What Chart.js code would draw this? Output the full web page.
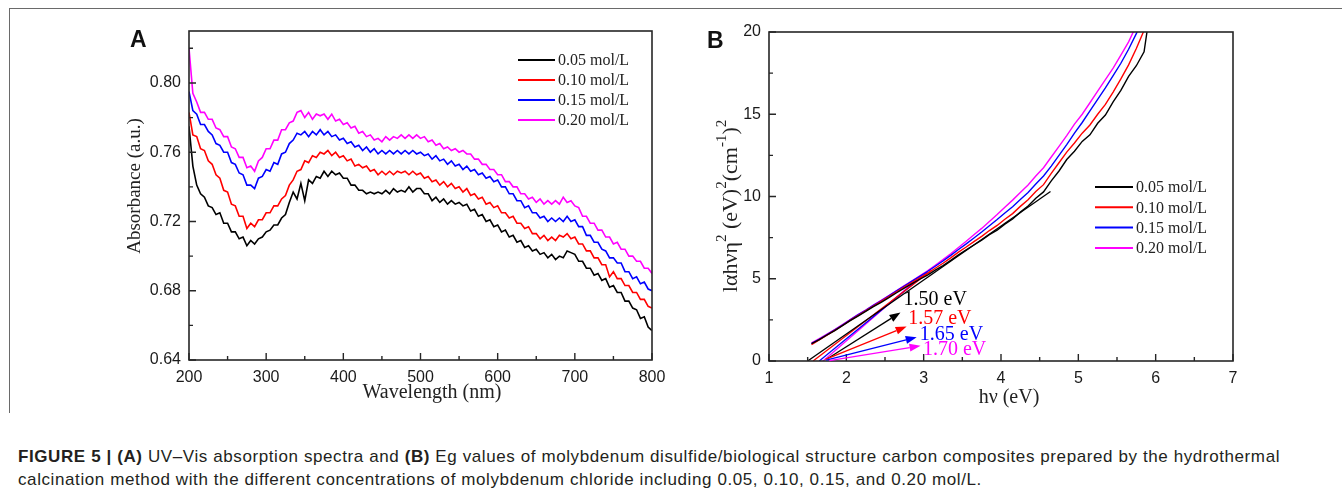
<!DOCTYPE html>
<html><head><meta charset="utf-8">
<script src="https://cdn.jsdelivr.net/npm/chart.js@4.4.0/dist/chart.umd.min.js"></script>
<style>
html,body{margin:0;padding:0;background:#fff;}
body{width:1342px;height:494px;position:relative;overflow:hidden;}
#frame{position:absolute;left:9px;top:8px;width:1340px;height:404px;border-top:1px solid #6a6a6a;border-left:1px solid #6a6a6a;}
#cA{position:absolute;left:0;top:0;}
#cB{position:absolute;left:671px;top:0;}
#cap{position:absolute;left:18px;top:445px;font-family:"Liberation Sans Narrow","Liberation Sans",Arial,sans-serif;font-size:17px;line-height:23px;color:#231f20;white-space:nowrap;}
#cap div{white-space:nowrap;}
</style></head>
<body>
<div id="frame"></div>
<canvas id="cA" width="671" height="420"></canvas>
<canvas id="cB" width="671" height="420"></canvas>
<div id="cap"><div id="l1"><b>FIGURE 5 | (A)</b> UV–Vis absorption spectra and <b>(B)</b> Eg values of molybdenum disulfide/biological structure carbon composites prepared by the hydrothermal</div><div id="l2">calcination method with the different concentrations of molybdenum chloride including 0.05, 0.10, 0.15, and 0.20 mol/L.</div></div>
<script>
// ---------- DATA ----------
const seriesLabels = ["0.05 mol/L", "0.10 mol/L", "0.15 mol/L", "0.20 mol/L"];
const seriesColors = ["#000000", "#ff0000", "#0000ff", "#ff00ff"];

// Panel A: UV-Vis absorbance vs wavelength (nm)
const wavelengths = [
200,205,210,215,220,225,230,235,240,245,
250,255,260,265,270,275,280,285,290,295,
300,305,310,315,320,325,330,335,340,345,
350,355,360,365,370,375,380,385,390,395,
400,405,410,415,420,425,430,435,440,445,
450,455,460,465,470,475,480,485,490,495,
500,505,510,515,520,525,530,535,540,545,
550,555,560,565,570,575,580,585,590,595,
600,605,610,615,620,625,630,635,640,645,
650,655,660,665,670,675,680,685,690,695,
700,705,710,715,720,725,730,735,740,745,
750,755,760,765,770,775,780,785,790,795,
800];
const abs005 = [
.775,.752,.741,.736,.734,.729,.728,.724,.725,.719,
.719,.714,.714,.710,.711,.706,.709,.707,.710,.711,
.714,.715,.718,.718,.722,.724,.731,.737,.733,.742,
.732,.744,.742,.746,.745,.749,.746,.749,.747,.748,
.745,.745,.741,.741,.738,.738,.736,.737,.736,.737,
.736,.738,.736,.739,.737,.738,.737,.740,.737,.739,
.739,.736,.736,.732,.734,.731,.733,.730,.732,.730,
.731,.729,.730,.726,.727,.723,.724,.720,.721,.717,
.718,.714,.715,.711,.712,.708,.709,.705,.706,.703,
.704,.701,.702,.699,.701,.698,.700,.699,.703,.702,
.701,.697,.697,.693,.693,.689,.690,.686,.687,.682,
.683,.679,.679,.674,.674,.670,.669,.664,.665,.659,
.657];
const abs010 = [
.783,.770,.769,.762,.761,.755,.753,.747,.745,.738,
.737,.730,.729,.723,.723,.716,.719,.717,.721,.721,
.725,.725,.729,.729,.733,.735,.741,.744,.749,.750,
.755,.754,.758,.757,.760,.759,.761,.758,.760,.757,
.758,.755,.756,.752,.753,.751,.752,.749,.750,.747,
.749,.747,.749,.747,.749,.748,.749,.747,.749,.747,
.748,.745,.746,.743,.744,.741,.743,.740,.742,.739,
.740,.737,.739,.735,.736,.733,.734,.730,.731,.728,
.729,.725,.725,.722,.723,.719,.719,.716,.717,.713,
.713,.710,.712,.709,.711,.709,.712,.711,.713,.710,
.711,.707,.707,.703,.703,.699,.699,.695,.695,.688,
.691,.687,.687,.683,.683,.679,.679,.675,.675,.671,
.670];
const abs015 = [
.795,.784,.782,.776,.776,.772,.770,.765,.764,.760,
.760,.754,.753,.748,.747,.741,.741,.739,.745,.746,
.750,.749,.754,.753,.759,.760,.765,.767,.771,.770,
.772,.769,.772,.770,.773,.770,.772,.769,.770,.767,
.768,.765,.766,.763,.764,.761,.763,.760,.762,.759,
.761,.759,.761,.759,.761,.759,.761,.759,.761,.759,
.760,.758,.759,.756,.758,.755,.756,.753,.755,.752,
.753,.750,.752,.749,.750,.747,.748,.745,.746,.743,
.744,.740,.740,.736,.736,.732,.732,.728,.729,.725,
.725,.722,.723,.720,.722,.720,.722,.720,.723,.720,
.721,.717,.717,.712,.712,.708,.708,.704,.703,.699,
.699,.696,.696,.691,.691,.687,.688,.684,.685,.681,
.680];
const abs020 = [
.820,.794,.789,.783,.783,.779,.779,.774,.773,.769,
.769,.763,.762,.757,.757,.751,.752,.749,.755,.757,
.762,.762,.767,.767,.773,.773,.777,.778,.783,.784,
.780,.783,.779,.782,.781,.782,.779,.782,.778,.779,
.776,.777,.774,.775,.771,.772,.769,.770,.767,.768,
.766,.769,.767,.769,.768,.770,.768,.770,.768,.770,
.768,.769,.766,.767,.764,.765,.762,.763,.761,.762,
.760,.761,.759,.759,.756,.756,.753,.753,.750,.750,
.747,.747,.743,.743,.740,.740,.736,.736,.733,.734,
.731,.733,.730,.732,.730,.732,.730,.734,.731,.732,
.729,.728,.723,.723,.719,.719,.715,.715,.711,.711,
.707,.708,.704,.704,.700,.700,.697,.697,.693,.693,
.690];
const aXTicks = [200, 300, 400, 500, 600, 700, 800];
const aXMinor = [250, 350, 450, 550, 650, 750];
const aYTicks = [0.64, 0.68, 0.72, 0.76, 0.80];
const aYMinor = [0.66, 0.70, 0.74, 0.78, 0.82];

// Panel B: Tauc plot
const photonEnergy = [
1.55,1.65,1.75,1.85,1.95,2.05,2.15,2.25,2.35,2.45,
2.55,2.65,2.75,2.85,2.95,3.05,3.15,3.25,3.35,3.45,
3.55,3.65,3.75,3.85,3.95,4.05,4.15,4.25,4.35,4.45,
4.55,4.65,4.75,4.85,4.95,5.05,5.15,5.25,5.35,5.45,
5.55,5.65,5.75,5.85,5.95];
const tauc005 = [
1.05,1.30,1.58,1.85,2.15,2.45,2.73,3.02,3.30,3.57,
3.85,4.15,4.43,4.70,4.97,5.22,5.52,5.80,6.12,6.45,
6.75,7.05,7.35,7.68,7.95,8.32,8.63,9.05,9.42,9.90,
10.28,10.95,11.55,12.25,12.75,13.35,13.75,14.45,14.95,15.75,
16.45,17.30,17.95,18.80,22.0];
const tauc010 = [
1.00,1.28,1.57,1.86,2.16,2.47,2.76,3.05,3.34,3.62,
3.91,4.21,4.50,4.78,5.06,5.33,5.64,5.94,6.27,6.62,
6.93,7.26,7.58,7.93,8.24,8.62,8.96,9.40,9.80,10.30,
10.72,11.40,12.05,12.70,13.25,13.85,14.35,15.00,15.60,16.35,
17.15,18.00,19.00,20.10,21.3];
const tauc015 = [
1.05,1.32,1.60,1.89,2.19,2.50,2.80,3.08,3.38,3.66,
3.96,4.26,4.56,4.86,5.15,5.44,5.76,6.08,6.42,6.78,
7.12,7.48,7.84,8.22,8.60,9.00,9.38,9.82,10.24,10.76,
11.25,11.85,12.50,13.15,13.85,14.50,15.20,15.90,16.60,17.35,
18.10,18.95,19.90,20.90,22.0];
const tauc020 = [
1.10,1.36,1.63,1.91,2.21,2.52,2.82,3.10,3.40,3.68,
3.98,4.28,4.58,4.88,5.18,5.48,5.82,6.16,6.52,6.90,
7.28,7.68,8.06,8.48,8.90,9.35,9.78,10.25,10.70,11.25,
11.75,12.40,13.05,13.70,14.40,15.00,15.70,16.40,17.10,17.80,
18.60,19.40,20.40,21.50,22.6];
// linear extrapolations (band gap)
const bandGap = [1.50, 1.57, 1.65, 1.70];
const fitEndHv = [4.64, 3.10, 3.05, 3.00];
const fitEndY = [10.3, 5.5, 5.4, 5.3];
// arrows + labels
const gapLabels = ["1.50 eV", "1.57 eV", "1.65 eV", "1.70 eV"];
const arrowFromHv = [1.76, 1.73, 1.74, 1.78];
const arrowFromY = [0.15, 0.10, 0.05, 0.02];
const arrowToHv = [2.70, 2.78, 2.91, 2.96];
const arrowToY = [2.95, 2.10, 1.45, 0.92];
const labelHv = [2.74, 2.80, 2.95, 2.99];
const labelY = [3.70, 2.55, 1.58, 0.67];
const bXTicks = [1, 2, 3, 4, 5, 6, 7];
const bXMinor = [1.5, 2.5, 3.5, 4.5, 5.5, 6.5];
const bYTicks = [0, 5, 10, 15, 20];
const bYMinor = [2.5, 7.5, 12.5, 17.5];

// ---------- HELPERS ----------
const SERIF = '"Liberation Serif","Times New Roman",Times,serif';
const SANS = '"Liberation Sans",Arial,Helvetica,sans-serif';
const AX = '#262626';

function boxAndTicks(chart, xMaj, xMin, yMaj, yMin) {
  const {ctx, chartArea: a} = chart;
  const x = chart.scales.x, y = chart.scales.y;
  const L = a.left, R = a.right, T = a.top, B = a.bottom;
  ctx.save();
  ctx.strokeStyle = AX;
  ctx.lineWidth = 1.6;
  ctx.strokeRect(L, T, R - L, B - T);
  ctx.lineWidth = 1.4;
  ctx.beginPath();
  xMaj.forEach(v => { const p = x.getPixelForValue(v); ctx.moveTo(p, B); ctx.lineTo(p, B - 7); });
  xMin.forEach(v => { const p = x.getPixelForValue(v); ctx.moveTo(p, B); ctx.lineTo(p, B - 4); });
  yMaj.forEach(v => { const p = y.getPixelForValue(v); ctx.moveTo(L, p); ctx.lineTo(L + 7, p); });
  yMin.forEach(v => { const p = y.getPixelForValue(v); ctx.moveTo(L, p); ctx.lineTo(L + 4, p); });
  ctx.stroke();
  ctx.restore();
}
function drawLegend(ctx, x0, y0, dy, len) {
  ctx.save();
  ctx.font = '16px ' + SERIF; ctx.textBaseline = 'middle'; ctx.textAlign = 'left';
  seriesLabels.forEach((l, i) => {
    const yy = y0 + i * dy;
    ctx.strokeStyle = seriesColors[i]; ctx.lineWidth = 2;
    ctx.beginPath(); ctx.moveTo(x0, yy); ctx.lineTo(x0 + len, yy); ctx.stroke();
    ctx.fillStyle = '#222'; ctx.fillText(l, x0 + len + 3, yy + 1);
  });
  ctx.restore();
}
function letter(ctx, t, x, y) {
  ctx.save(); ctx.font = 'bold 23px ' + SANS; ctx.fillStyle = '#111';
  ctx.textBaseline = 'alphabetic'; ctx.fillText(t, x, y); ctx.restore();
}
function centerText(ctx, t, x, y, size) {
  ctx.save(); ctx.font = size + 'px ' + SERIF; ctx.fillStyle = '#222';
  ctx.textAlign = 'center'; ctx.textBaseline = 'middle'; ctx.fillText(t, x, y); ctx.restore();
}
function vertText(ctx, t, x, y, size) {
  ctx.save(); ctx.translate(x, y); ctx.rotate(-Math.PI / 2);
  ctx.font = size + 'px ' + SERIF; ctx.fillStyle = '#222';
  ctx.textAlign = 'center'; ctx.textBaseline = 'middle'; ctx.fillText(t, 0, 0); ctx.restore();
}
function vertRich(ctx, segs, x, yc, size, supSize) {
  ctx.save();
  let total = 0;
  segs.forEach(s => { ctx.font = (s[1] ? supSize : size) + 'px ' + SERIF; total += ctx.measureText(s[0]).width; });
  ctx.translate(x, yc + total / 2); ctx.rotate(-Math.PI / 2);
  ctx.fillStyle = '#222'; ctx.textBaseline = 'middle'; ctx.textAlign = 'left';
  let u = 0;
  segs.forEach(s => {
    ctx.font = (s[1] ? supSize : size) + 'px ' + SERIF;
    ctx.fillText(s[0], u, s[1] ? -9 : 0);
    u += ctx.measureText(s[0]).width;
  });
  ctx.restore();
}
function arrow(ctx, x1, y1, x2, y2, color) {
  const ang = Math.atan2(y2 - y1, x2 - x1), L = 11, W = 4;
  const bx = x2 - L * Math.cos(ang), by = y2 - L * Math.sin(ang);
  ctx.save(); ctx.strokeStyle = color; ctx.fillStyle = color; ctx.lineWidth = 1.3;
  ctx.beginPath(); ctx.moveTo(x1, y1); ctx.lineTo(bx, by); ctx.stroke();
  ctx.beginPath(); ctx.moveTo(x2, y2);
  ctx.lineTo(bx + W * Math.sin(ang), by - W * Math.cos(ang));
  ctx.lineTo(bx - W * Math.sin(ang), by + W * Math.cos(ang));
  ctx.closePath(); ctx.fill(); ctx.restore();
}
function axisCommon(min, max, ticksArr, fmt, sizeKey, sizeVal) {
  return {
    type: 'linear', min: min, max: max,
    grid: {display: false, drawTicks: false}, border: {display: false},
    ticks: {font: {family: SANS, size: 16}, color: '#1a1a1a', autoSkip: false, maxRotation: 0, padding: 8, callback: fmt},
    afterBuildTicks: s => { s.ticks = ticksArr.map(v => ({value: v})); },
    afterFit: s => {
      s[sizeKey] = sizeVal;
      s.paddingLeft = 0; s.paddingRight = 0; s.paddingTop = 0; s.paddingBottom = 0;
    }
  };
}

// ---------- CHART A ----------
const aSeries = [abs005, abs010, abs015, abs020];
new Chart(document.getElementById('cA'), {
  type: 'line',
  data: {datasets: aSeries.map((arr, i) => ({
    label: seriesLabels[i],
    data: wavelengths.map((w, j) => ({x: w, y: arr[j]})),
    borderColor: seriesColors[i], borderWidth: 1.6, pointRadius: 0, tension: 0, fill: false
  }))},
  options: {
    responsive: false, animation: false, devicePixelRatio: 1,
    layout: {padding: {left: 0, top: 31, right: 19, bottom: 0}},
    plugins: {legend: {display: false}, tooltip: {enabled: false}},
    scales: {
      x: axisCommon(200, 800, aXTicks, v => String(v), 'height', 60),
      y: axisCommon(0.64, 0.83, aYTicks, v => v.toFixed(2), 'width', 189)
    }
  },
  plugins: [{
    id: 'decorA',
    afterDraw(chart) {
      const ctx = chart.ctx;
      boxAndTicks(chart, aXTicks, aXMinor, aYTicks, aYMinor);
      drawLegend(ctx, 518, 60, 20, 37);
      letter(ctx, 'A', 130, 47);
      vertText(ctx, 'Absorbance (a.u.)', 135, 186, 19);
      centerText(ctx, 'Wavelength (nm)', 432, 393, 20);
    }
  }]
});

// ---------- CHART B ----------
const bSeries = [tauc005, tauc010, tauc015, tauc020];
const bSets = bSeries.map((arr, i) => ({
  label: seriesLabels[i],
  data: photonEnergy.map((e, j) => ({x: e, y: arr[j]})),
  borderColor: seriesColors[i], borderWidth: 1.4, pointRadius: 0, tension: 0, fill: false
}));
bandGap.forEach((g, i) => bSets.push({
  label: 'fit ' + seriesLabels[i],
  data: [{x: g, y: 0}, {x: fitEndHv[i], y: fitEndY[i]}],
  borderColor: seriesColors[i], borderWidth: 1.3, pointRadius: 0, tension: 0, fill: false
}));
new Chart(document.getElementById('cB'), {
  type: 'line',
  data: {datasets: bSets},
  options: {
    responsive: false, animation: false, devicePixelRatio: 1,
    layout: {padding: {left: 0, top: 32, right: 109, bottom: 0}},
    plugins: {legend: {display: false}, tooltip: {enabled: false}},
    scales: {
      x: axisCommon(1, 7, bXTicks, v => String(v), 'height', 59),
      y: axisCommon(0, 20, bYTicks, v => String(v), 'width', 98)
    }
  },
  plugins: [{
    id: 'decorB',
    afterDraw(chart) {
      const ctx = chart.ctx, x = chart.scales.x, y = chart.scales.y;
      boxAndTicks(chart, bXTicks, bXMinor, bYTicks, bYMinor);
      gapLabels.forEach((t, i) => {
        arrow(ctx, x.getPixelForValue(arrowFromHv[i]), y.getPixelForValue(arrowFromY[i]),
                   x.getPixelForValue(arrowToHv[i]), y.getPixelForValue(arrowToY[i]), seriesColors[i]);
        ctx.save(); ctx.font = '20px ' + SERIF; ctx.fillStyle = seriesColors[i];
        ctx.textBaseline = 'middle'; ctx.textAlign = 'left';
        ctx.fillText(t, x.getPixelForValue(labelHv[i]), y.getPixelForValue(labelY[i]));
        ctx.restore();
      });
      drawLegend(ctx, 424, 187, 20.3, 38);
      letter(ctx, 'B', 36, 48);
      vertRich(ctx, [['lαhνη', false], ['2', true], [' (eV)', false], ['2', true], ['(cm', false], ['-1', true], [')', false], ['2', true]], 60, 206, 22, 15);
      centerText(ctx, 'hν (eV)', 338, 398, 20);
    }
  }]
});

// caption fit to reference line width
(function () {
  const l1 = document.getElementById('l1');
  const target = 1262;
  const w = l1.getBoundingClientRect().width;
  const n = l1.textContent.length;
  const ls = (target - w) / n;
  document.getElementById('cap').style.letterSpacing = ls.toFixed(3) + 'px';
})();
</script>
</body></html>
